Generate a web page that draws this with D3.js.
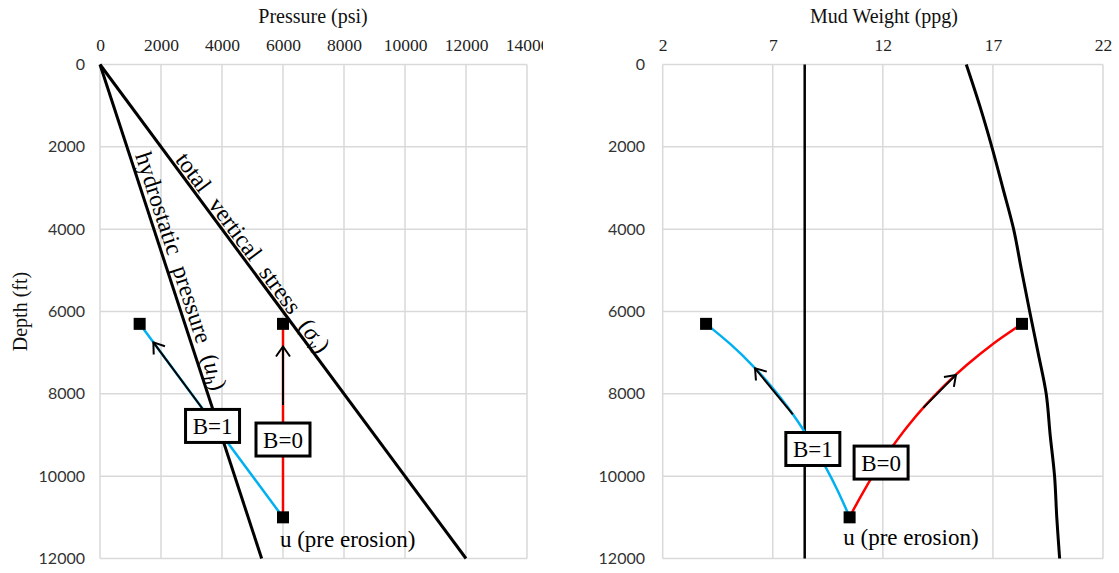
<!DOCTYPE html>
<html><head><meta charset="utf-8">
<script src="https://cdn.jsdelivr.net/npm/d3@7"></script>
<style>body{margin:0;background:#fff}</style>
</head><body><svg id="c" width="1119" height="573"></svg>
<script>
// ---- data ----
const pressureTicks=[0,2000,4000,6000,8000,10000,12000,14000];
const depthTicks=[0,2000,4000,6000,8000,10000,12000];
const mudTicks=[2,7,12,17,22];
const hydroDepth=[0,12000], hydroPsi=[0,5300];
const sigmaDepth=[0,12000], sigmaPsi=[0,12000];
const pathDepth=[11000,6300];
const b1Psi=[6000,1300];
const b0Psi=[6000,6000];
const curveDepth=[11000,10800,10300,9800,9300,8800,8300,7800,7300,6800,6300];
const b1Ppg=[10.49,10.33,9.90,9.42,8.89,8.30,7.65,6.90,6.06,5.09,3.97];
const b0Ppg=[10.49,10.68,11.20,11.77,12.41,13.11,13.90,14.79,15.81,16.97,18.32];
const hydroPpg=8.45;
const sigmaCurveDepth=[0,1000,2000,3000,4000,5000,6000,7000,8000,9000,10000,11000,12000];
const sigmaPpg=[15.79,16.4,16.95,17.45,17.94,18.3,18.67,19.05,19.42,19.6,19.8,19.9,20.03];

const svg=d3.select('#c');
const GRID='#d9d9d9', BLUE='#00b0f0', RED='#ff0000';
const serif='Liberation Serif';
const sans='Lato';

const y=d3.scaleLinear().domain([0,12000]).range([64.5,558.5]);
const xL=d3.scaleLinear().domain([0,14000]).range([100,527]);
const xR=d3.scaleLinear().domain([2,22]).range([662.7,1103]);

// arrow marker
const defs=svg.append('defs');
defs.append('marker').attr('id','arr').attr('viewBox','-14 -10 16 20').attr('refX',0).attr('refY',0)
  .attr('markerWidth',16).attr('markerHeight',20).attr('markerUnits','userSpaceOnUse').attr('orient','auto')
  .append('path').attr('d','M-10,-7 L0,0 L-10,7').attr('fill','none').attr('stroke','#000').attr('stroke-width',2);
defs.append('clipPath').attr('id','clipL').append('rect').attr('x',0).attr('y',-80).attr('width',543).attr('height',100);

function frame(x,xTicks,ylabX,title,titleX){
  const g=svg.append('g');
  const [x0,x1]=x.range();
  g.selectAll('.vg').data(xTicks).join('line')
    .attr('x1',d=>x(d)).attr('x2',d=>x(d)).attr('y1',y(0)).attr('y2',y(12000))
    .attr('stroke',GRID).attr('stroke-width',1.5);
  g.selectAll('.hg').data(depthTicks).join('line')
    .attr('x1',x0).attr('x2',x1).attr('y1',d=>y(d)).attr('y2',d=>y(d))
    .attr('stroke',GRID).attr('stroke-width',1.5);
  const xa=g.append('g').attr('transform',`translate(0,${y(0)})`)
    .call(d3.axisTop(x).tickValues(xTicks).tickSize(0).tickPadding(14).tickFormat(d3.format('d')));
  xa.select('.domain').remove();
  xa.selectAll('text').attr('font-family',serif).attr('font-size',17.5).attr('fill','#222');
  const ya=g.append('g').attr('transform',`translate(${ylabX},0)`)
    .call(d3.axisLeft(y).tickValues(depthTicks).tickSize(0).tickPadding(0).tickFormat(d3.format('d')));
  ya.select('.domain').remove();
  ya.selectAll('text').attr('font-family',sans).attr('font-size',16).attr('fill','#333');
  g.append('text').attr('x',titleX).attr('y',23).attr('text-anchor','middle')
    .attr('font-family',serif).attr('font-size',20).attr('fill','#111').text(title);
  return {g,xa};
}

const L=frame(xL,pressureTicks,85,'Pressure (psi)',313);
L.xa.attr('clip-path','url(#clipL)');
const R=frame(xR,mudTicks,645,'Mud Weight (ppg)',884);

svg.append('text').attr('transform',`translate(27,${(y(0)+y(12000))/2}) rotate(-90)`)
  .attr('text-anchor','middle').attr('font-family',serif).attr('font-size',20).attr('fill','#111').text('Depth (ft)');

// ---- left chart ----
const gl=svg.append('g');
const lineL=d3.line().x(d=>xL(d[0])).y(d=>y(d[1]));
gl.append('path').attr('d',lineL(d3.zip(hydroPsi,hydroDepth))).attr('stroke','#000').attr('stroke-width',3).attr('fill','none');
gl.append('path').attr('d',lineL(d3.zip(sigmaPsi,sigmaDepth))).attr('stroke','#000').attr('stroke-width',3).attr('fill','none');
gl.append('path').attr('d',lineL(d3.zip(b1Psi,pathDepth))).attr('stroke',BLUE).attr('stroke-width',2.5).attr('fill','none');
gl.append('path').attr('d',lineL(d3.zip(b0Psi,pathDepth))).attr('stroke',RED).attr('stroke-width',2.5).attr('fill','none');

const b1Lin=d3.scaleLinear().domain(pathDepth).range(b1Psi);
gl.append('line').attr('x1',xL(b1Lin(8350))).attr('y1',y(8350)).attr('x2',xL(b1Lin(6750))).attr('y2',y(6750))
  .attr('stroke','#000').attr('stroke-width',2).attr('marker-end','url(#arr)');
gl.append('line').attr('x1',xL(6000)).attr('y1',y(8270)).attr('x2',xL(6000)).attr('y2',y(6850))
  .attr('stroke','#000').attr('stroke-width',2).attr('marker-end','url(#arr)');

function lineLabel(g,p0,p1,startDist,perp,build){
  const dx=p1[0]-p0[0], dy=p1[1]-p0[1], Ln=Math.hypot(dx,dy);
  const ux=dx/Ln, uy=dy/Ln, nx=uy, ny=-ux;
  const px=p0[0]+ux*startDist+nx*perp, py=p0[1]+uy*startDist+ny*perp;
  const ang=Math.atan2(dy,dx)*180/Math.PI;
  const t=g.append('text').attr('transform',`translate(${px},${py}) rotate(${ang})`)
    .attr('font-family',serif).attr('font-size',24).attr('word-spacing',7).attr('fill','#000');
  build(t);
}
lineLabel(gl,[xL(0),y(0)],[xL(sigmaPsi[1]),y(sigmaDepth[1])],121,3,t=>{
  t.append('tspan').text('total vertical stress (');
  t.append('tspan').attr('font-style','italic').text('σ');
  t.append('tspan').attr('font-style','italic').attr('font-size',17).attr('dy',5).text('v');
  t.append('tspan').attr('dy',-5).text(')');
});
lineLabel(gl,[xL(0),y(0)],[xL(hydroPsi[1]),y(hydroDepth[1])],97,5,t=>{
  t.append('tspan').text('hydrostatic pressure (');
  t.append('tspan').attr('font-style','italic').text('u');
  t.append('tspan').attr('font-style','italic').attr('font-size',17).attr('dy',5).text('h');
  t.append('tspan').attr('dy',-5).text(')');
});

// ---- right chart ----
const gr=svg.append('g');
const lineR=d3.line().x(d=>xR(d[0])).y(d=>y(d[1]));
const lineC=d3.line().x(d=>xR(d[0])).y(d=>y(d[1])).curve(d3.curveCatmullRom);
gr.append('path').attr('d',lineR([[hydroPpg,0],[hydroPpg,12000]])).attr('stroke','#000').attr('stroke-width',2.5).attr('fill','none');
gr.append('path').attr('d',lineC(d3.zip(sigmaPpg,sigmaCurveDepth))).attr('stroke','#000').attr('stroke-width',3).attr('fill','none');
gr.append('path').attr('d',lineC(d3.zip(b1Ppg,curveDepth))).attr('stroke',BLUE).attr('stroke-width',2.5).attr('fill','none');
gr.append('path').attr('d',lineC(d3.zip(b0Ppg,curveDepth))).attr('stroke',RED).attr('stroke-width',2.5).attr('fill','none');
const b1C=d3.scaleLinear().domain(curveDepth).range(b1Ppg);
const b0C=d3.scaleLinear().domain(curveDepth).range(b0Ppg);
gr.append('line').attr('x1',xR(b1C(8500))).attr('y1',y(8500)).attr('x2',xR(b1C(7380))).attr('y2',y(7380))
  .attr('stroke','#000').attr('stroke-width',2).attr('marker-end','url(#arr)');
gr.append('line').attr('x1',xR(b0C(8340))).attr('y1',y(8340)).attr('x2',xR(b0C(7540))).attr('y2',y(7540))
  .attr('stroke','#000').attr('stroke-width',2).attr('marker-end','url(#arr)');

// markers
function squares(g,pts){
  g.selectAll('.sq').data(pts).join('rect').attr('x',d=>d[0]-6).attr('y',d=>d[1]-6)
    .attr('width',12).attr('height',12).attr('fill','#000');
}
squares(gl,[[xL(b1Psi[1]),y(pathDepth[1])],[xL(b0Psi[1]),y(pathDepth[1])],[xL(b0Psi[0]),y(pathDepth[0])]]);
squares(gr,[[xR(b1Ppg[10]),y(curveDepth[10])],[xR(b0Ppg[10]),y(curveDepth[10])],[xR(b0Ppg[0]),y(curveDepth[0])]]);

// boxes
function box(g,cx,cy,label){
  g.append('rect').attr('x',cx-27).attr('y',cy-16.5).attr('width',54).attr('height',33)
    .attr('fill','#fff').attr('stroke','#000').attr('stroke-width',3);
  g.append('text').attr('x',cx).attr('y',cy+8).attr('text-anchor','middle')
    .attr('font-family',serif).attr('font-size',23).attr('fill','#000').text(label);
}
box(gl,xL(3690),y(8780),'B=1');
box(gl,xL(6000),y(9110),'B=0');
box(gr,xR(8.82),y(9340),'B=1');
box(gr,xR(11.92),y(9670),'B=0');
gl.append('text').attr('x',xL(5900)).attr('y',y(11550)+7).attr('font-family',serif).attr('font-size',23).text('u (pre erosion)');
gr.append('text').attr('x',xR(10.2)).attr('y',y(11510)+7).attr('font-family',serif).attr('font-size',23).text('u (pre erosion)');
</script></body></html>
